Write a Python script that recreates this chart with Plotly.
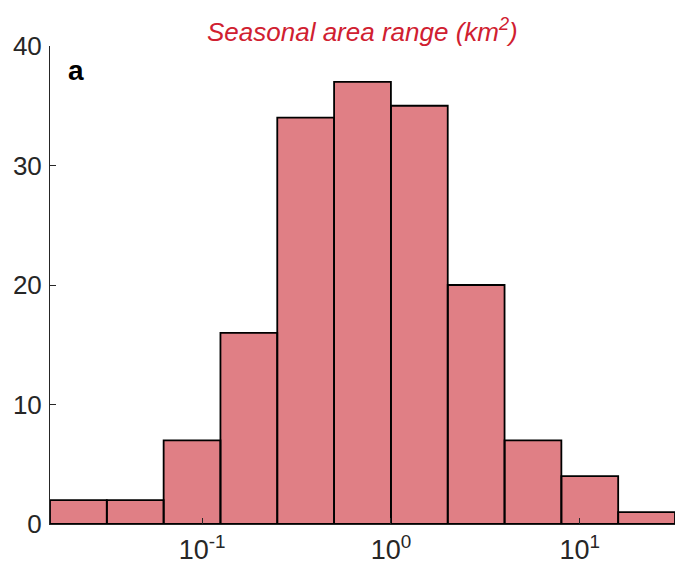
import plotly.graph_objects as go
import numpy as np

# Data: bin edges (powers of two) and counts
bin_edges = [2.0**k for k in range(-6, 6)]
counts = [2, 2, 7, 16, 34, 37, 35, 20, 7, 4, 1]
x_tickvals = [0.1, 1, 10]
x_ticktext = ["10<sup>-1</sup>", "10<sup>0</sup>", "10<sup>1</sup>"]
y_tickvals = [0, 10, 20, 30, 40]

xs, ys = [], []
for i, c in enumerate(counts):
    l, r = bin_edges[i], bin_edges[i + 1]
    xs += [l, l, r, r, l, None]
    ys += [0, c, c, 0, 0, None]

fig = go.Figure()
fig.add_trace(go.Scatter(
    x=xs, y=ys, mode="lines", fill="toself",
    fillcolor="rgb(224,127,133)",
    line=dict(color="black", width=1.8),
    hoverinfo="skip", showlegend=False,
))

W, H = 675, 574
ml, mr, mt, mb = 50, 0, 46, 50
fig.update_layout(
    width=W, height=H,
    margin=dict(l=ml, r=mr, t=mt, b=mb),
    plot_bgcolor="white", paper_bgcolor="white",
    font=dict(family="Liberation Sans, Arial, sans-serif", color="#262626", size=26),
    showlegend=False,
)
fig.update_xaxes(
    type="log",
    range=[np.log10(bin_edges[0]), np.log10(bin_edges[-1])],
    tickvals=x_tickvals, ticktext=x_ticktext,
    ticks="inside", ticklen=6, tickwidth=1, tickcolor="#262626",
    showline=True, linecolor="#262626", linewidth=1,
    showgrid=False, zeroline=False,
    tickfont=dict(size=27), ticklabelstandoff=2,
)
fig.update_yaxes(
    range=[0, 40], tickvals=y_tickvals,
    ticks="inside", ticklen=6, tickwidth=1, tickcolor="#262626",
    showline=True, linecolor="#262626", linewidth=1,
    showgrid=False, zeroline=False,
    tickfont=dict(size=26), ticklabelstandoff=2,
)
fig.add_annotation(
    text="<i>Seasonal area range (km<sup>2</sup>)</i>",
    xref="paper", yref="paper", x=(362 - ml) / (W - ml - mr), y=1,
    yshift=16, xanchor="center", yanchor="middle",
    showarrow=False, font=dict(size=26, color="rgb(208,32,48)"),
)
fig.add_annotation(
    text="<b>a</b>",
    xref="paper", yref="paper", x=(66 - ml) / (W - ml - mr), y=(524 - 70) / (524 - 46),
    xanchor="left", yanchor="middle",
    showarrow=False, font=dict(size=28, color="black"),
)
fig.write_html("out.html")
